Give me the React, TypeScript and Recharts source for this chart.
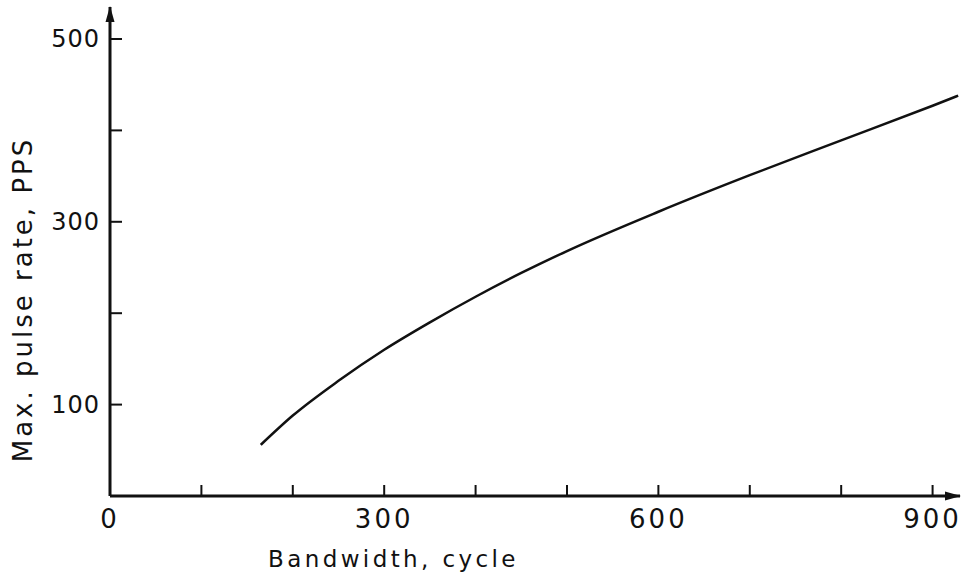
import { LineChart, Line, XAxis, YAxis } from "recharts";

const BANDWIDTH = [165, 200, 250, 300, 350, 400, 450, 500, 600, 700, 800, 900, 928];
const PULSE_RATE = [56, 88, 126, 160, 190, 218, 244, 268, 311, 351, 389, 427, 438];

const X_TICKS = [0, 100, 200, 300, 400, 500, 600, 700, 800, 900];
const X_LABELLED = [0, 300, 600, 900];
const Y_TICKS = [100, 200, 300, 400, 500];
const Y_LABELLED = [100, 300, 500];

const INK = "#111";
const FONT = "'DejaVu Sans', sans-serif";
const GAP = 10; // tickMargin used to find the axis line from the tick position

const data = BANDWIDTH.map((bw, i) => ({ bw, rate: PULSE_RATE[i] }));

// label on the outside, short tick mark pointing into the plot
function XTick({ x, y, payload }: any) {
  const axisY = y - GAP;
  const v = payload.value;
  return (
    <g>
      <line x1={x} x2={x} y1={axisY} y2={axisY - 11} stroke={INK} strokeWidth={2} />
      {X_LABELLED.includes(v) && (
        <text
          x={x}
          y={axisY + 32}
          textAnchor="middle"
          fontFamily={FONT}
          fontSize={26}
          letterSpacing={3}
          fill={INK}
        >
          {v}
        </text>
      )}
    </g>
  );
}

function YTick({ x, y, payload }: any) {
  const axisX = x + GAP;
  const v = payload.value;
  return (
    <g>
      <line x1={axisX} x2={axisX + 12} y1={y} y2={y} stroke={INK} strokeWidth={2} />
      {Y_LABELLED.includes(v) && (
        <text
          x={axisX - 10}
          y={y}
          textAnchor="end"
          dominantBaseline="central"
          fontFamily={FONT}
          fontSize={24}
          letterSpacing={1}
          fill={INK}
        >
          {v}
        </text>
      )}
    </g>
  );
}

function YTitle({ viewBox }: any) {
  const cx = viewBox.x + 22;
  const cy = viewBox.y + viewBox.height / 2 + 48;
  return (
    <text
      x={cx}
      y={cy}
      transform={`rotate(-90 ${cx} ${cy})`}
      textAnchor="middle"
      fontFamily={FONT}
      fontSize={26}
      letterSpacing={3}
      fill={INK}
    >
      Max. pulse rate, PPS
    </text>
  );
}

function XTitle({ viewBox }: any) {
  return (
    <text
      x={viewBox.x + 158}
      y={viewBox.y + 71}
      fontFamily={FONT}
      fontSize={23}
      letterSpacing={3.4}
      fill={INK}
    >
      Bandwidth, cycle
    </text>
  );
}

export default function App() {
  return (
    <div style={{ position: "absolute", left: 0, top: 0, background: "#fff" }}>
      <svg width={0} height={0} style={{ position: "absolute" }}>
        <defs>
          <marker
            id="axisArrow"
            viewBox="0 0 16 10"
            refX={15}
            refY={5}
            markerWidth={16}
            markerHeight={10}
            markerUnits="userSpaceOnUse"
            orient="auto-start-reverse"
          >
            <path d="M0,0.5 L16,5 L0,9.5 z" fill={INK} />
          </marker>
        </defs>
      </svg>
      <LineChart
        width={968}
        height={580}
        data={data}
        margin={{ top: 7, right: 8, bottom: 44, left: 10 }}
      >
        <XAxis
          type="number"
          dataKey="bw"
          domain={[0, 930]}
          ticks={X_TICKS}
          interval={0}
          height={40}
          tickSize={0}
          tickMargin={GAP}
          tick={<XTick />}
          tickLine={false}
          axisLine={{ stroke: INK, strokeWidth: 3, markerEnd: "url(#axisArrow)" }}
          label={(props: any) => <XTitle {...props} />}
        />
        <YAxis
          type="number"
          domain={[0, 535]}
          ticks={Y_TICKS}
          interval={0}
          width={100}
          tickSize={0}
          tickMargin={GAP}
          tick={<YTick />}
          tickLine={false}
          axisLine={{ stroke: INK, strokeWidth: 3, markerStart: "url(#axisArrow)" }}
          label={(props: any) => <YTitle {...props} />}
        />
        <Line
          type="monotone"
          dataKey="rate"
          stroke={INK}
          strokeWidth={2.5}
          dot={false}
          isAnimationActive={false}
        />
      </LineChart>
    </div>
  );
}
